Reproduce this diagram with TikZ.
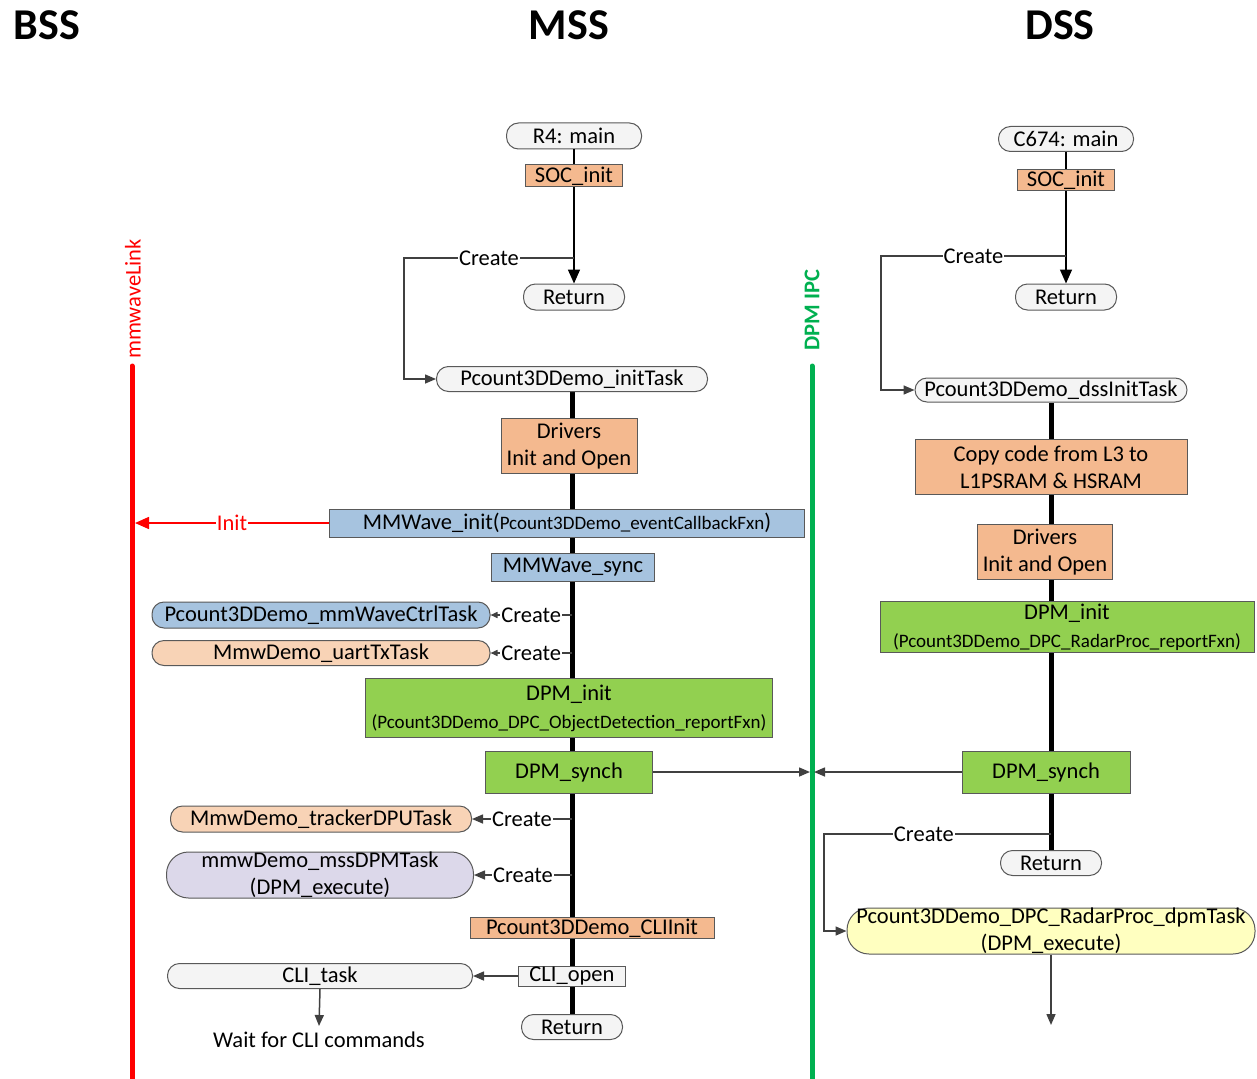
\documentclass[tikz,border=0pt]{standalone}
\usepackage{fontspec}
\setmainfont{Carlito}
\usetikzlibrary{arrows.meta,backgrounds}

\definecolor{edge}{HTML}{595959}
\definecolor{conncol}{HTML}{404040}
\definecolor{orangebox}{HTML}{F4B98F}
\definecolor{lightorange}{HTML}{F8D3B6}
\definecolor{bluebox}{HTML}{A6C3DF}
\definecolor{greenbox}{HTML}{92D050}
\definecolor{lavender}{HTML}{DCD8EA}
\definecolor{yellowbox}{HTML}{FFFFC0}
\definecolor{graybox}{HTML}{F4F4F4}
\definecolor{linkred}{HTML}{FF0000}
\definecolor{ipcgreen}{HTML}{00B050}

\newcommand{\smalltxt}{\fontsize{19}{22}\selectfont}

\begin{document}
\begin{tikzpicture}[x=1pt,y=-1pt,
  font=\fontsize{22.5}{27}\selectfont,
  sz/.style 2 args={minimum width=#1, minimum height=#2},
  blk/.style={draw=edge, line width=1pt, inner sep=0pt, align=center},
  pill/.style={blk, rounded corners=12pt},
  bigpill/.style={blk, rounded corners=22pt},
  title/.style={font=\fontsize{44}{50}\selectfont\bfseries},
  conn/.style={draw=conncol, line width=1.5pt},
  tip/.style={-{Triangle[length=11pt,width=9pt]}},
  bigtip/.style={-{Triangle[length=14pt,width=12pt]}},
  smalltip/.style={-{Triangle[length=7pt,width=6pt]}},
  lbl/.style={fill=white, inner sep=1pt, text=black},
  spine/.style={line width=5pt, black},
  lane/.style={line width=5pt, line cap=round}
]
\useasboundingbox (0,0) rectangle (1257,1078);

% subsystem headings
\node[title] (tB) at (47,25) {BSS};
\node[title] (tM) at (569,25) {MSS};
\node[title] (tD) at (1060,25) {DSS};

% inter-subsystem lanes
\coordinate (linkTop) at (132,366);
\coordinate (linkBot) at (132,1085);
\draw[lane, linkred] (linkTop) -- (linkBot);
\node[rotate=90, text=linkred] (linkLbl) at (133,299) {mmwaveLink};
\coordinate (ipcTop) at (812,366);
\coordinate (ipcBot) at (812,1085);
\draw[lane, ipcgreen] (ipcTop) -- (ipcBot);
\node[rotate=90, text=ipcgreen, font=\fontsize{22.5}{27}\selectfont\bfseries] (ipcLbl) at (812,310) {DPM IPC};

% ---------------- MSS ----------------
\node[pill, fill=graybox, sz={135}{26}] (r4main) at (574,136) {R4: main};
\node[blk, fill=orangebox, sz={97}{22}] (socA) at (574,176) {SOC\_init};
\node[pill, fill=graybox, sz={101}{26}] (retA) at (574,297) {Return};
\node[pill, fill=graybox, sz={271}{25}] (initTask) at (572,379) {Pcount3DDemo\_initTask};
\node[blk, fill=orangebox, sz={136}{55}] (drvA) at (569,446) {Drivers\\Init and Open};
\node[blk, fill=bluebox, sz={475}{28}] (mmwInit) at (567,523)
  {MMWave\_init({\smalltxt Pcount3DDemo\_eventCallbackFxn})};
\node[blk, fill=bluebox, sz={163}{28}] (mmwSync) at (573,567) {MMWave\_sync};
\node[pill, fill=bluebox, sz={338}{26}] (ctrlTask) at (321,615) {Pcount3DDemo\_mmWaveCtrlTask};
\node[pill, fill=lightorange, sz={338}{25}] (uartTask) at (321,653) {MmwDemo\_uartTxTask};
\node[blk, fill=greenbox, sz={407}{59}] (dpmInitA) at (569,708)
  {DPM\_init\\[1pt]{\smalltxt (Pcount3DDemo\_DPC\_ObjectDetection\_reportFxn)}};
\node[blk, fill=greenbox, sz={167}{42}] (dpmSynchA) at (569,772) {DPM\_synch};
\node[pill, fill=lightorange, sz={301}{26}] (trackerTask) at (321,819) {MmwDemo\_trackerDPUTask};
\node[bigpill, fill=lavender, sz={307}{46}] (mssDpmTask) at (320,875) {mmwDemo\_mssDPMTask\\(DPM\_execute)};
\node[blk, fill=orangebox, sz={244}{21}] (cliInit) at (592,928) {Pcount3DDemo\_CLIInit};
\node[blk, fill=graybox, sz={107}{20}] (cliOpen) at (572,976) {CLI\_open};
\node[pill, fill=graybox, sz={305}{25}] (cliTask) at (320,976) {CLI\_task};
\node[inner sep=1pt] (waitCli) at (319,1040) {Wait for CLI commands};
\node[pill, fill=graybox, sz={101}{25}] (retB) at (572,1027) {Return};

% ---------------- DSS ----------------
\node[pill, fill=graybox, sz={135}{25}] (c674) at (1066,139) {C674: main};
\node[blk, fill=orangebox, sz={97}{21}] (socD) at (1066,180) {SOC\_init};
\node[pill, fill=graybox, sz={101}{26}] (retC) at (1066,297) {Return};
\node[pill, fill=graybox, sz={272}{24}] (dssInit) at (1051,390) {Pcount3DDemo\_dssInitTask};
\node[blk, fill=orangebox, sz={272}{55}] (copyD) at (1051,467) {Copy code from L3 to\\L1PSRAM \& HSRAM};
\node[blk, fill=orangebox, sz={135}{55}] (drvD) at (1045,552) {Drivers\\Init and Open};
\node[blk, fill=greenbox, sz={374}{51}] (dpmInitD) at (1067,627)
  {DPM\_init\\[1pt]{\smalltxt (Pcount3DDemo\_DPC\_RadarProc\_reportFxn)}};
\node[blk, fill=greenbox, sz={168}{42}] (dpmSynchD) at (1046,772) {DPM\_synch};
\node[pill, fill=graybox, sz={101}{25}] (retD) at (1051,863) {Return};
\node[bigpill, fill=yellowbox, sz={408}{46}] (dpmTask) at (1051,931)
  {Pcount3DDemo\_DPC\_RadarProc\_dpmTask\\(DPM\_execute)};

% task backbones, behind the boxes
\begin{pgfonlayer}{background}
  \draw[spine] (initTask.south) -- (retB.north);
  \draw[spine] (dssInit.south) -- (retD.north);
\end{pgfonlayer}

% ---------------- MSS connectors ----------------
\draw[line width=1.5pt, black] (r4main) -- (socA);
\draw[line width=1.5pt, black, bigtip] (socA) -- (retA);
\coordinate (brA) at (574,258);
\coordinate (cornerA) at (404,258);
\draw[conn, tip] (brA) -- node[lbl] {Create} (cornerA) |- (initTask.west);

\coordinate (linkInit) at (135,523);
\draw[line width=1.5pt, linkred, bigtip] (mmwInit.west) -- node[lbl, text=linkred] {Init} (linkInit);

\coordinate (bCtrl) at (572,615);
\draw[conn, smalltip] (bCtrl) -- node[lbl] {Create} (ctrlTask.east);
\coordinate (bUart) at (572,653);
\draw[conn, smalltip] (bUart) -- node[lbl] {Create} (uartTask.east);

\coordinate (ipcL) at (810,772);
\draw[conn, tip] (dpmSynchA.east) -- (ipcL);

\coordinate (bTrk) at (572,819);
\draw[conn, tip] (bTrk) -- node[lbl] {Create} (trackerTask.east);
\coordinate (bMssDpm) at (572,875);
\draw[conn, tip] (bMssDpm) -- node[lbl] {Create} (mssDpmTask.east);

\draw[conn, tip] (cliOpen.west) -- (cliTask.east);
\coordinate (waitTop) at (319,1026);
\draw[conn, tip] (cliTask.south) -- (waitTop);

% ---------------- DSS connectors ----------------
\draw[line width=1.5pt, black] (c674) -- (socD);
\draw[line width=1.5pt, black, bigtip] (socD) -- (retC);
\coordinate (brC) at (1066,256);
\coordinate (cornerC) at (881,256);
\draw[conn, tip] (brC) -- node[lbl] {Create} (cornerC) |- (dssInit.west);

\coordinate (ipcR) at (814,772);
\draw[conn, tip] (dpmSynchD.west) -- (ipcR);

\coordinate (brD) at (1051,834);
\coordinate (cornerD) at (824,834);
\draw[conn, tip] (brD) -- node[lbl, pos=0.56] {Create} (cornerD) |- (dpmTask.west);

\coordinate (dssEnd) at (1051,1025);
\draw[conn, tip] (dpmTask.south) -- (dssEnd);
\end{tikzpicture}
\end{document}
